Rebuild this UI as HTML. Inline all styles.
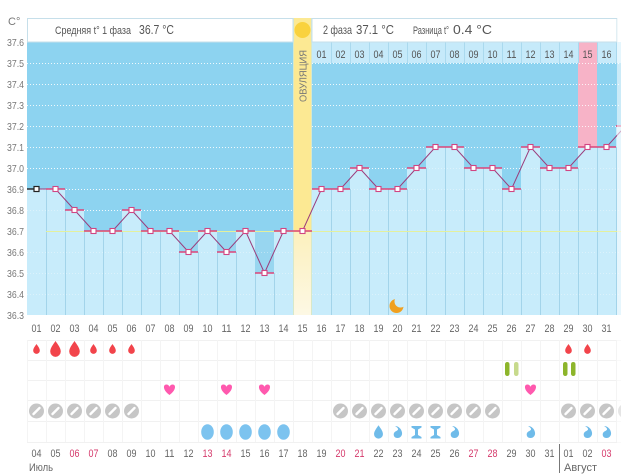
<!DOCTYPE html>
<html><head><meta charset="utf-8">
<style>
html,body{margin:0;padding:0;background:#fff;}
svg{display:block;font-family:"Liberation Sans","DejaVu Sans",sans-serif;}
</style></head>
<body>
<svg width="621" height="476" viewBox="0 0 621 476" xmlns="http://www.w3.org/2000/svg">
<defs>
  <path id="drop" d="M0,-5 C1.5,-2.8 3.3,-0.6 3.3,1.6 A3.3,3.3 0 0 1 -3.3,1.6 C-3.3,-0.6 -1.5,-2.8 0,-5Z"/>
  <path id="heart" d="M0,5 C-7,0 -6.5,-5.5 -3.2,-5.5 C-1.6,-5.5 -0.5,-4.5 0,-3.3 C0.5,-4.5 1.6,-5.5 3.2,-5.5 C6.5,-5.5 7,0 0,5Z"/>
  <g id="pill"><circle r="7.5" fill="#c6c6c6"/><line x1="-3" y1="3" x2="3" y2="-3" stroke="#fff" stroke-width="2.4" stroke-linecap="round"/></g>
  <path id="curl" d="M-2.5,-6 C1,-6 4,-3 4.5,0.5 C5,3.5 3,6 0,6 C-3,6 -4.5,3.5 -3.5,1 C-2.5,-1 0,-1 0.5,-2.5 C0.8,-3.8 -0.8,-5 -2.5,-6Z" fill="#6fbbe9"/>
  <path id="hglass" d="M-5,-6 L5,-6 L5,-4.5 L1.5,-2.5 L1.5,3 L5,5 L5,6.5 L-5,6.5 L-5,5 L-1.5,3 L-1.5,-2.5 L-5,-4.5Z" fill="#6fbbe9"/>
</defs>

<!-- chart background -->
<rect x="27" y="42" width="594" height="273" fill="#8dd3f0"/>
<!-- pink column 30 -->
<rect x="578" y="42" width="19" height="105" fill="#f7b3c7"/>

<!-- dotted grid (dark region) -->
<g stroke="#ffffff" stroke-width="1" stroke-dasharray="1,2" opacity="0.85">
  <line x1="27" y1="63.5" x2="621" y2="63.5"/>
  <line x1="27" y1="84.5" x2="621" y2="84.5"/>
  <line x1="27" y1="105.5" x2="621" y2="105.5"/>
  <line x1="27" y1="126.5" x2="621" y2="126.5"/>
  <line x1="27" y1="147.5" x2="621" y2="147.5"/>
  <line x1="27" y1="168.5" x2="621" y2="168.5"/>
  <line x1="27" y1="189.5" x2="621" y2="189.5"/>
  <line x1="27" y1="210.5" x2="621" y2="210.5"/>
  <line x1="27" y1="252.5" x2="621" y2="252.5"/>
  <line x1="27" y1="273.5" x2="621" y2="273.5"/>
  <line x1="27" y1="294.5" x2="621" y2="294.5"/>
</g>

<!-- light bars -->
<g fill="#c8ecfb">
  <rect x="27" y="189" width="19" height="126"/>
  <rect x="46" y="189" width="19" height="126"/>
  <rect x="65" y="210" width="19" height="105"/>
  <rect x="84" y="231" width="19" height="84"/>
  <rect x="103" y="231" width="19" height="84"/>
  <rect x="122" y="210" width="19" height="105"/>
  <rect x="141" y="231" width="19" height="84"/>
  <rect x="160" y="231" width="19" height="84"/>
  <rect x="179" y="252" width="19" height="63"/>
  <rect x="198" y="231" width="19" height="84"/>
  <rect x="217" y="252" width="19" height="63"/>
  <rect x="236" y="231" width="19" height="84"/>
  <rect x="255" y="273" width="19" height="42"/>
  <rect x="274" y="231" width="19" height="84"/>
  <rect x="312" y="189" width="19" height="126"/>
  <rect x="331" y="189" width="19" height="126"/>
  <rect x="350" y="168" width="19" height="147"/>
  <rect x="369" y="189" width="19" height="126"/>
  <rect x="388" y="189" width="19" height="126"/>
  <rect x="407" y="168" width="19" height="147"/>
  <rect x="426" y="147" width="19" height="168"/>
  <rect x="445" y="147" width="19" height="168"/>
  <rect x="464" y="168" width="19" height="147"/>
  <rect x="483" y="168" width="19" height="147"/>
  <rect x="502" y="189" width="19" height="126"/>
  <rect x="521" y="147" width="19" height="168"/>
  <rect x="540" y="168" width="19" height="147"/>
  <rect x="559" y="168" width="19" height="147"/>
  <rect x="578" y="147" width="19" height="168"/>
  <rect x="597" y="147" width="19" height="168"/>
  <rect x="616" y="126" width="19" height="189"/>
</g>
<!-- medium patches below coverline -->
<g fill="#98d6f0">
  <rect x="179" y="231" width="19" height="21"/>
  <rect x="217" y="231" width="19" height="21"/>
  <rect x="255" y="231" width="19" height="42"/>
</g>

<!-- faint dotted grid on light region -->
<g stroke="#ffffff" stroke-width="1" stroke-dasharray="1,2" opacity="0.35">
  <line x1="27" y1="252.5" x2="621" y2="252.5"/>
  <line x1="27" y1="273.5" x2="621" y2="273.5"/>
  <line x1="27" y1="294.5" x2="621" y2="294.5"/>
  <line x1="27" y1="210.5" x2="621" y2="210.5"/>
  <line x1="27" y1="189.5" x2="621" y2="189.5"/>
  <line x1="27" y1="168.5" x2="621" y2="168.5"/>
</g>

<!-- column separators in light region -->
<g stroke="#a3d4ea" stroke-width="1">
  <line x1="46.5" y1="189" x2="46.5" y2="315"/>
  <line x1="65.5" y1="210" x2="65.5" y2="315"/>
  <line x1="84.5" y1="231" x2="84.5" y2="315"/>
  <line x1="103.5" y1="231" x2="103.5" y2="315"/>
  <line x1="122.5" y1="231" x2="122.5" y2="315"/>
  <line x1="141.5" y1="231" x2="141.5" y2="315"/>
  <line x1="160.5" y1="231" x2="160.5" y2="315"/>
  <line x1="179.5" y1="252" x2="179.5" y2="315"/>
  <line x1="198.5" y1="252" x2="198.5" y2="315"/>
  <line x1="217.5" y1="252" x2="217.5" y2="315"/>
  <line x1="236.5" y1="252" x2="236.5" y2="315"/>
  <line x1="255.5" y1="273" x2="255.5" y2="315"/>
  <line x1="274.5" y1="273" x2="274.5" y2="315"/>
  <line x1="331.5" y1="189" x2="331.5" y2="315"/>
  <line x1="350.5" y1="189" x2="350.5" y2="315"/>
  <line x1="369.5" y1="189" x2="369.5" y2="315"/>
  <line x1="388.5" y1="189" x2="388.5" y2="315"/>
  <line x1="407.5" y1="189" x2="407.5" y2="315"/>
  <line x1="426.5" y1="168" x2="426.5" y2="315"/>
  <line x1="445.5" y1="147" x2="445.5" y2="315"/>
  <line x1="464.5" y1="168" x2="464.5" y2="315"/>
  <line x1="483.5" y1="168" x2="483.5" y2="315"/>
  <line x1="502.5" y1="189" x2="502.5" y2="315"/>
  <line x1="521.5" y1="189" x2="521.5" y2="315"/>
  <line x1="540.5" y1="168" x2="540.5" y2="315"/>
  <line x1="559.5" y1="168" x2="559.5" y2="315"/>
  <line x1="578.5" y1="168" x2="578.5" y2="315"/>
  <line x1="597.5" y1="147" x2="597.5" y2="315"/>
  <line x1="616.5" y1="147" x2="616.5" y2="315"/>
</g>

<!-- ovulation column -->
<defs>
  <linearGradient id="pale" x1="0" y1="0" x2="0" y2="1">
    <stop offset="0" stop-color="#fcf0bd"/>
    <stop offset="1" stop-color="#fdf8e4"/>
  </linearGradient>
</defs>
<rect x="293" y="18" width="19" height="213" fill="#fce993"/>
<rect x="293" y="231" width="19" height="84" fill="url(#pale)"/>
<line x1="293.5" y1="18" x2="293.5" y2="315" stroke="#d9e8c8" stroke-width="1"/>
<line x1="311.5" y1="18" x2="311.5" y2="315" stroke="#d9e8c8" stroke-width="1"/>
<circle cx="302.5" cy="30" r="8" fill="#f9d23e"/>
<text x="0" y="0" transform="translate(306.5,76) rotate(-90)" text-anchor="middle" font-size="10" fill="#777" textLength="52" lengthAdjust="spacingAndGlyphs">ОВУЛЯЦИЯ</text>

<!-- coverline -->
<line x1="46" y1="231.5" x2="621" y2="231.5" stroke="#e4f09c" stroke-width="1"/>

<!-- numbered row phase 2 -->
<rect x="312" y="42" width="309" height="21" fill="#c6eafa"/>
<rect x="578" y="42" width="19" height="21" fill="#f7b3c7"/>
<g stroke="#aad9ee" stroke-width="1">
  <line x1="331.5" y1="42" x2="331.5" y2="63"/><line x1="350.5" y1="42" x2="350.5" y2="63"/>
  <line x1="369.5" y1="42" x2="369.5" y2="63"/><line x1="388.5" y1="42" x2="388.5" y2="63"/>
  <line x1="407.5" y1="42" x2="407.5" y2="63"/><line x1="426.5" y1="42" x2="426.5" y2="63"/>
  <line x1="445.5" y1="42" x2="445.5" y2="63"/><line x1="464.5" y1="42" x2="464.5" y2="63"/>
  <line x1="483.5" y1="42" x2="483.5" y2="63"/><line x1="502.5" y1="42" x2="502.5" y2="63"/>
  <line x1="521.5" y1="42" x2="521.5" y2="63"/><line x1="540.5" y1="42" x2="540.5" y2="63"/>
  <line x1="559.5" y1="42" x2="559.5" y2="63"/><line x1="578.5" y1="42" x2="578.5" y2="63"/>
  <line x1="597.5" y1="42" x2="597.5" y2="63"/><line x1="616.5" y1="42" x2="616.5" y2="63"/>
</g>
<g font-size="11" fill="#555" text-anchor="middle">
  <text x="321.5" y="58" textLength="10" lengthAdjust="spacingAndGlyphs">01</text>
  <text x="340.5" y="58" textLength="10" lengthAdjust="spacingAndGlyphs">02</text>
  <text x="359.5" y="58" textLength="10" lengthAdjust="spacingAndGlyphs">03</text>
  <text x="378.5" y="58" textLength="10" lengthAdjust="spacingAndGlyphs">04</text>
  <text x="397.5" y="58" textLength="10" lengthAdjust="spacingAndGlyphs">05</text>
  <text x="416.5" y="58" textLength="10" lengthAdjust="spacingAndGlyphs">06</text>
  <text x="435.5" y="58" textLength="10" lengthAdjust="spacingAndGlyphs">07</text>
  <text x="454.5" y="58" textLength="10" lengthAdjust="spacingAndGlyphs">08</text>
  <text x="473.5" y="58" textLength="10" lengthAdjust="spacingAndGlyphs">09</text>
  <text x="492.5" y="58" textLength="10" lengthAdjust="spacingAndGlyphs">10</text>
  <text x="511.5" y="58" textLength="10" lengthAdjust="spacingAndGlyphs">11</text>
  <text x="530.5" y="58" textLength="10" lengthAdjust="spacingAndGlyphs">12</text>
  <text x="549.5" y="58" textLength="10" lengthAdjust="spacingAndGlyphs">13</text>
  <text x="568.5" y="58" textLength="10" lengthAdjust="spacingAndGlyphs">14</text>
  <text x="587.5" y="58" textLength="10" lengthAdjust="spacingAndGlyphs">15</text>
  <text x="606.5" y="58" textLength="10" lengthAdjust="spacingAndGlyphs">16</text>
</g>

<!-- header rows -->
<rect x="27.5" y="18.5" width="265.5" height="23.5" fill="#fff" stroke="#c6dfea" stroke-width="1"/>
<rect x="312" y="18.5" width="305" height="23.5" fill="#fff" stroke="#c6dfea" stroke-width="1"/>
<text x="55" y="34" font-size="11" fill="#555" textLength="76" lengthAdjust="spacingAndGlyphs">Средняя t° 1 фаза</text>
<text x="139" y="34" font-size="13" fill="#555" textLength="35" lengthAdjust="spacingAndGlyphs">36.7 °C</text>
<text x="323" y="34" font-size="12" fill="#555" textLength="29" lengthAdjust="spacingAndGlyphs">2 фаза</text>
<text x="356" y="34" font-size="13" fill="#555" textLength="38" lengthAdjust="spacingAndGlyphs">37.1 °C</text>
<text x="413" y="34" font-size="11" fill="#555" textLength="36" lengthAdjust="spacingAndGlyphs">Разница t°</text>
<text x="453" y="34" font-size="13" fill="#555" textLength="39" lengthAdjust="spacingAndGlyphs">0.4 °C</text>

<!-- y axis labels -->
<text x="8" y="25" font-size="11" fill="#777">C°</text>
<g font-size="10.5" fill="#777" text-anchor="end">
  <text x="24" y="46" textLength="17" lengthAdjust="spacingAndGlyphs">37.6</text>
  <text x="24" y="67" textLength="17" lengthAdjust="spacingAndGlyphs">37.5</text>
  <text x="24" y="88" textLength="17" lengthAdjust="spacingAndGlyphs">37.4</text>
  <text x="24" y="109" textLength="17" lengthAdjust="spacingAndGlyphs">37.3</text>
  <text x="24" y="130" textLength="17" lengthAdjust="spacingAndGlyphs">37.2</text>
  <text x="24" y="151" textLength="17" lengthAdjust="spacingAndGlyphs">37.1</text>
  <text x="24" y="172" textLength="17" lengthAdjust="spacingAndGlyphs">37.0</text>
  <text x="24" y="193" textLength="17" lengthAdjust="spacingAndGlyphs">36.9</text>
  <text x="24" y="214" textLength="17" lengthAdjust="spacingAndGlyphs">36.8</text>
  <text x="24" y="235" textLength="17" lengthAdjust="spacingAndGlyphs">36.7</text>
  <text x="24" y="256" textLength="17" lengthAdjust="spacingAndGlyphs">36.6</text>
  <text x="24" y="277" textLength="17" lengthAdjust="spacingAndGlyphs">36.5</text>
  <text x="24" y="298" textLength="17" lengthAdjust="spacingAndGlyphs">36.4</text>
  <text x="24" y="319" textLength="17" lengthAdjust="spacingAndGlyphs">36.3</text>
</g>

<!-- moon -->
<circle cx="396.5" cy="306" r="7" fill="#f0a020"/>
<circle cx="400.5" cy="301.5" r="6" fill="#c8ecfb"/>

<!-- temperature line -->
<polyline fill="none" stroke="#9a3d7c" stroke-width="1" points="36.5,189 55.5,189 74.5,210 93.5,231 112.5,231 131.5,210 150.5,231 169.5,231 188.5,252 207.5,231 226.5,252 245.5,231 264.5,273 283.5,231 302.5,231 321.5,189 340.5,189 359.5,168 378.5,189 397.5,189 416.5,168 435.5,147 454.5,147 473.5,168 492.5,168 511.5,189 530.5,147 549.5,168 568.5,168 587.5,147 606.5,147 625.5,126"/>
<!-- horizontal level segments -->
<path fill="none" stroke="#dc4479" stroke-width="1.4" d="M46,189h19 M65,210h19 M84,231h19 M103,231h19 M122,210h19 M141,231h19 M160,231h19 M179,252h19 M198,231h19 M217,252h19 M236,231h19 M255,273h19 M274,231h19 M293,231h19 M312,189h19 M331,189h19 M350,168h19 M369,189h19 M388,189h19 M407,168h19 M426,147h19 M445,147h19 M464,168h19 M483,168h19 M502,189h19 M521,147h19 M540,168h19 M559,168h19 M578,147h19 M597,147h19 M616,126h19"/>
<path d="M27,189h10" stroke="#222" stroke-width="1.4"/>
<!-- markers -->
<g fill="#fff" stroke="#d14582" stroke-width="1.1">
  <rect x="53" y="186.5" width="5" height="5"/>
  <rect x="72" y="207.5" width="5" height="5"/>
  <rect x="91" y="228.5" width="5" height="5"/>
  <rect x="110" y="228.5" width="5" height="5"/>
  <rect x="129" y="207.5" width="5" height="5"/>
  <rect x="148" y="228.5" width="5" height="5"/>
  <rect x="167" y="228.5" width="5" height="5"/>
  <rect x="186" y="249.5" width="5" height="5"/>
  <rect x="205" y="228.5" width="5" height="5"/>
  <rect x="224" y="249.5" width="5" height="5"/>
  <rect x="243" y="228.5" width="5" height="5"/>
  <rect x="262" y="270.5" width="5" height="5"/>
  <rect x="281" y="228.5" width="5" height="5"/>
  <rect x="300" y="228.5" width="5" height="5"/>
  <rect x="319" y="186.5" width="5" height="5"/>
  <rect x="338" y="186.5" width="5" height="5"/>
  <rect x="357" y="165.5" width="5" height="5"/>
  <rect x="376" y="186.5" width="5" height="5"/>
  <rect x="395" y="186.5" width="5" height="5"/>
  <rect x="414" y="165.5" width="5" height="5"/>
  <rect x="433" y="144.5" width="5" height="5"/>
  <rect x="452" y="144.5" width="5" height="5"/>
  <rect x="471" y="165.5" width="5" height="5"/>
  <rect x="490" y="165.5" width="5" height="5"/>
  <rect x="509" y="186.5" width="5" height="5"/>
  <rect x="528" y="144.5" width="5" height="5"/>
  <rect x="547" y="165.5" width="5" height="5"/>
  <rect x="566" y="165.5" width="5" height="5"/>
  <rect x="585" y="144.5" width="5" height="5"/>
  <rect x="604" y="144.5" width="5" height="5"/>
</g>
<rect x="34" y="186.5" width="5" height="5" fill="#fff" stroke="#222" stroke-width="1.2"/>

<!-- x axis labels -->
<g font-size="11" fill="#666" text-anchor="middle">
  <text x="36.5" y="332" textLength="10" lengthAdjust="spacingAndGlyphs">01</text>
  <text x="55.5" y="332" textLength="10" lengthAdjust="spacingAndGlyphs">02</text>
  <text x="74.5" y="332" textLength="10" lengthAdjust="spacingAndGlyphs">03</text>
  <text x="93.5" y="332" textLength="10" lengthAdjust="spacingAndGlyphs">04</text>
  <text x="112.5" y="332" textLength="10" lengthAdjust="spacingAndGlyphs">05</text>
  <text x="131.5" y="332" textLength="10" lengthAdjust="spacingAndGlyphs">06</text>
  <text x="150.5" y="332" textLength="10" lengthAdjust="spacingAndGlyphs">07</text>
  <text x="169.5" y="332" textLength="10" lengthAdjust="spacingAndGlyphs">08</text>
  <text x="188.5" y="332" textLength="10" lengthAdjust="spacingAndGlyphs">09</text>
  <text x="207.5" y="332" textLength="10" lengthAdjust="spacingAndGlyphs">10</text>
  <text x="226.5" y="332" textLength="10" lengthAdjust="spacingAndGlyphs">11</text>
  <text x="245.5" y="332" textLength="10" lengthAdjust="spacingAndGlyphs">12</text>
  <text x="264.5" y="332" textLength="10" lengthAdjust="spacingAndGlyphs">13</text>
  <text x="283.5" y="332" textLength="10" lengthAdjust="spacingAndGlyphs">14</text>
  <text x="302.5" y="332" textLength="10" lengthAdjust="spacingAndGlyphs">15</text>
  <text x="321.5" y="332" textLength="10" lengthAdjust="spacingAndGlyphs">16</text>
  <text x="340.5" y="332" textLength="10" lengthAdjust="spacingAndGlyphs">17</text>
  <text x="359.5" y="332" textLength="10" lengthAdjust="spacingAndGlyphs">18</text>
  <text x="378.5" y="332" textLength="10" lengthAdjust="spacingAndGlyphs">19</text>
  <text x="397.5" y="332" textLength="10" lengthAdjust="spacingAndGlyphs">20</text>
  <text x="416.5" y="332" textLength="10" lengthAdjust="spacingAndGlyphs">21</text>
  <text x="435.5" y="332" textLength="10" lengthAdjust="spacingAndGlyphs">22</text>
  <text x="454.5" y="332" textLength="10" lengthAdjust="spacingAndGlyphs">23</text>
  <text x="473.5" y="332" textLength="10" lengthAdjust="spacingAndGlyphs">24</text>
  <text x="492.5" y="332" textLength="10" lengthAdjust="spacingAndGlyphs">25</text>
  <text x="511.5" y="332" textLength="10" lengthAdjust="spacingAndGlyphs">26</text>
  <text x="530.5" y="332" textLength="10" lengthAdjust="spacingAndGlyphs">27</text>
  <text x="549.5" y="332" textLength="10" lengthAdjust="spacingAndGlyphs">28</text>
  <text x="568.5" y="332" textLength="10" lengthAdjust="spacingAndGlyphs">29</text>
  <text x="587.5" y="332" textLength="10" lengthAdjust="spacingAndGlyphs">30</text>
  <text x="606.5" y="332" textLength="10" lengthAdjust="spacingAndGlyphs">31</text>
</g>

<!-- bottom grid -->
<g stroke="#f1f1f1" stroke-width="1">
  <line x1="27" y1="340.5" x2="621" y2="340.5"/>
  <line x1="27" y1="360.5" x2="621" y2="360.5"/>
  <line x1="27" y1="380.5" x2="621" y2="380.5"/>
  <line x1="27" y1="400.5" x2="621" y2="400.5"/>
  <line x1="27" y1="421.5" x2="621" y2="421.5"/>
  <line x1="27" y1="442.5" x2="621" y2="442.5"/>
</g>
<g stroke="#f4f4f4" stroke-width="1">
  <line x1="27.5" y1="340" x2="27.5" y2="442"/><line x1="46.5" y1="340" x2="46.5" y2="442"/>
  <line x1="65.5" y1="340" x2="65.5" y2="442"/><line x1="84.5" y1="340" x2="84.5" y2="442"/>
  <line x1="103.5" y1="340" x2="103.5" y2="442"/><line x1="122.5" y1="340" x2="122.5" y2="442"/>
  <line x1="141.5" y1="340" x2="141.5" y2="442"/><line x1="160.5" y1="340" x2="160.5" y2="442"/>
  <line x1="179.5" y1="340" x2="179.5" y2="442"/><line x1="198.5" y1="340" x2="198.5" y2="442"/>
  <line x1="217.5" y1="340" x2="217.5" y2="442"/><line x1="236.5" y1="340" x2="236.5" y2="442"/>
  <line x1="255.5" y1="340" x2="255.5" y2="442"/><line x1="274.5" y1="340" x2="274.5" y2="442"/>
  <line x1="293.5" y1="340" x2="293.5" y2="442"/><line x1="312.5" y1="340" x2="312.5" y2="442"/>
  <line x1="331.5" y1="340" x2="331.5" y2="442"/><line x1="350.5" y1="340" x2="350.5" y2="442"/>
  <line x1="369.5" y1="340" x2="369.5" y2="442"/><line x1="388.5" y1="340" x2="388.5" y2="442"/>
  <line x1="407.5" y1="340" x2="407.5" y2="442"/><line x1="426.5" y1="340" x2="426.5" y2="442"/>
  <line x1="445.5" y1="340" x2="445.5" y2="442"/><line x1="464.5" y1="340" x2="464.5" y2="442"/>
  <line x1="483.5" y1="340" x2="483.5" y2="442"/><line x1="502.5" y1="340" x2="502.5" y2="442"/>
  <line x1="521.5" y1="340" x2="521.5" y2="442"/><line x1="540.5" y1="340" x2="540.5" y2="442"/>
  <line x1="559.5" y1="340" x2="559.5" y2="442"/><line x1="578.5" y1="340" x2="578.5" y2="442"/>
  <line x1="597.5" y1="340" x2="597.5" y2="442"/><line x1="616.5" y1="340" x2="616.5" y2="442"/>
</g>

<!-- red drops -->
<g fill="#f2444b">
  <use href="#drop" transform="translate(36.5,349)"/>
  <use href="#drop" transform="translate(55.5,349) scale(1.6)"/>
  <use href="#drop" transform="translate(74.5,349) scale(1.6)"/>
  <use href="#drop" transform="translate(93.5,349)"/>
  <use href="#drop" transform="translate(112.5,349)"/>
  <use href="#drop" transform="translate(131.5,349)"/>
  <use href="#drop" transform="translate(568.5,349)"/>
  <use href="#drop" transform="translate(587.5,349)"/>
</g>

<!-- green bars -->
<rect x="505" y="362" width="4.5" height="14" rx="2.2" fill="#8db52b"/>
<rect x="514" y="362" width="4.5" height="14" rx="2.2" fill="#c7da8c"/>
<rect x="563" y="362" width="4.5" height="14" rx="2.2" fill="#8db52b"/>
<rect x="571" y="362" width="4.5" height="14" rx="2.2" fill="#8db52b"/>

<!-- hearts -->
<g fill="#ff59ae">
  <use href="#heart" transform="translate(169.5,390)"/>
  <use href="#heart" transform="translate(226.5,390)"/>
  <use href="#heart" transform="translate(264.5,390)"/>
  <use href="#heart" transform="translate(530.5,390)"/>
</g>

<!-- pills -->
<use href="#pill" transform="translate(36.5,411)"/>
<use href="#pill" transform="translate(55.5,411)"/>
<use href="#pill" transform="translate(74.5,411)"/>
<use href="#pill" transform="translate(93.5,411)"/>
<use href="#pill" transform="translate(112.5,411)"/>
<use href="#pill" transform="translate(131.5,411)"/>
<use href="#pill" transform="translate(340.5,411)"/>
<use href="#pill" transform="translate(359.5,411)"/>
<use href="#pill" transform="translate(378.5,411)"/>
<use href="#pill" transform="translate(397.5,411)"/>
<use href="#pill" transform="translate(416.5,411)"/>
<use href="#pill" transform="translate(435.5,411)"/>
<use href="#pill" transform="translate(454.5,411)"/>
<use href="#pill" transform="translate(473.5,411)"/>
<use href="#pill" transform="translate(492.5,411)"/>
<use href="#pill" transform="translate(568.5,411)"/>
<use href="#pill" transform="translate(587.5,411)"/>
<use href="#pill" transform="translate(606.5,411)"/>
<use href="#pill" transform="translate(625.5,411)"/>

<!-- eggs / discharge -->
<g fill="#7cc3ef">
  <ellipse cx="207.5" cy="432" rx="6.3" ry="7.8"/>
  <ellipse cx="226.5" cy="432" rx="6.3" ry="7.8"/>
  <ellipse cx="245.5" cy="432" rx="6.3" ry="7.8"/>
  <ellipse cx="264.5" cy="432" rx="6.3" ry="7.8"/>
  <ellipse cx="283.5" cy="432" rx="6.3" ry="7.8"/>
</g>
<use href="#drop" transform="translate(378.5,432) scale(1.35)" fill="#6fbbe9"/>
<use href="#curl" transform="translate(397.5,432)"/>
<use href="#hglass" transform="translate(416.5,432)"/>
<use href="#hglass" transform="translate(435.5,432)"/>
<use href="#curl" transform="translate(454.5,432)"/>
<use href="#curl" transform="translate(530.5,432)"/>
<use href="#curl" transform="translate(587.5,432)"/>
<use href="#curl" transform="translate(606.5,432)"/>

<!-- dates -->
<g font-size="11" fill="#666" text-anchor="middle">
  <text x="36.5" y="457" textLength="10" lengthAdjust="spacingAndGlyphs">04</text>
  <text x="55.5" y="457" textLength="10" lengthAdjust="spacingAndGlyphs">05</text>
  <text x="74.5" y="457" textLength="10" lengthAdjust="spacingAndGlyphs" fill="#d5396b">06</text>
  <text x="93.5" y="457" textLength="10" lengthAdjust="spacingAndGlyphs" fill="#d5396b">07</text>
  <text x="112.5" y="457" textLength="10" lengthAdjust="spacingAndGlyphs">08</text>
  <text x="131.5" y="457" textLength="10" lengthAdjust="spacingAndGlyphs">09</text>
  <text x="150.5" y="457" textLength="10" lengthAdjust="spacingAndGlyphs">10</text>
  <text x="169.5" y="457" textLength="10" lengthAdjust="spacingAndGlyphs">11</text>
  <text x="188.5" y="457" textLength="10" lengthAdjust="spacingAndGlyphs">12</text>
  <text x="207.5" y="457" textLength="10" lengthAdjust="spacingAndGlyphs" fill="#d5396b">13</text>
  <text x="226.5" y="457" textLength="10" lengthAdjust="spacingAndGlyphs" fill="#d5396b">14</text>
  <text x="245.5" y="457" textLength="10" lengthAdjust="spacingAndGlyphs">15</text>
  <text x="264.5" y="457" textLength="10" lengthAdjust="spacingAndGlyphs">16</text>
  <text x="283.5" y="457" textLength="10" lengthAdjust="spacingAndGlyphs">17</text>
  <text x="302.5" y="457" textLength="10" lengthAdjust="spacingAndGlyphs">18</text>
  <text x="321.5" y="457" textLength="10" lengthAdjust="spacingAndGlyphs">19</text>
  <text x="340.5" y="457" textLength="10" lengthAdjust="spacingAndGlyphs" fill="#d5396b">20</text>
  <text x="359.5" y="457" textLength="10" lengthAdjust="spacingAndGlyphs" fill="#d5396b">21</text>
  <text x="378.5" y="457" textLength="10" lengthAdjust="spacingAndGlyphs">22</text>
  <text x="397.5" y="457" textLength="10" lengthAdjust="spacingAndGlyphs">23</text>
  <text x="416.5" y="457" textLength="10" lengthAdjust="spacingAndGlyphs">24</text>
  <text x="435.5" y="457" textLength="10" lengthAdjust="spacingAndGlyphs">25</text>
  <text x="454.5" y="457" textLength="10" lengthAdjust="spacingAndGlyphs">26</text>
  <text x="473.5" y="457" textLength="10" lengthAdjust="spacingAndGlyphs" fill="#d5396b">27</text>
  <text x="492.5" y="457" textLength="10" lengthAdjust="spacingAndGlyphs" fill="#d5396b">28</text>
  <text x="511.5" y="457" textLength="10" lengthAdjust="spacingAndGlyphs">29</text>
  <text x="530.5" y="457" textLength="10" lengthAdjust="spacingAndGlyphs">30</text>
  <text x="549.5" y="457" textLength="10" lengthAdjust="spacingAndGlyphs">31</text>
  <text x="568.5" y="457" textLength="10" lengthAdjust="spacingAndGlyphs">01</text>
  <text x="587.5" y="457" textLength="10" lengthAdjust="spacingAndGlyphs">02</text>
  <text x="606.5" y="457" textLength="10" lengthAdjust="spacingAndGlyphs" fill="#d5396b">03</text>
</g>
<line x1="559.5" y1="444" x2="559.5" y2="473" stroke="#777" stroke-width="1"/>
<text x="29" y="471" font-size="11" fill="#666" textLength="24" lengthAdjust="spacingAndGlyphs">Июль</text>
<text x="564" y="471" font-size="11" fill="#666" textLength="33" lengthAdjust="spacingAndGlyphs">Август</text>

<!-- right edge fade -->
<rect x="617" y="0" width="4" height="476" fill="#ffffff" opacity="0.55"/>
</svg>
</body></html>
